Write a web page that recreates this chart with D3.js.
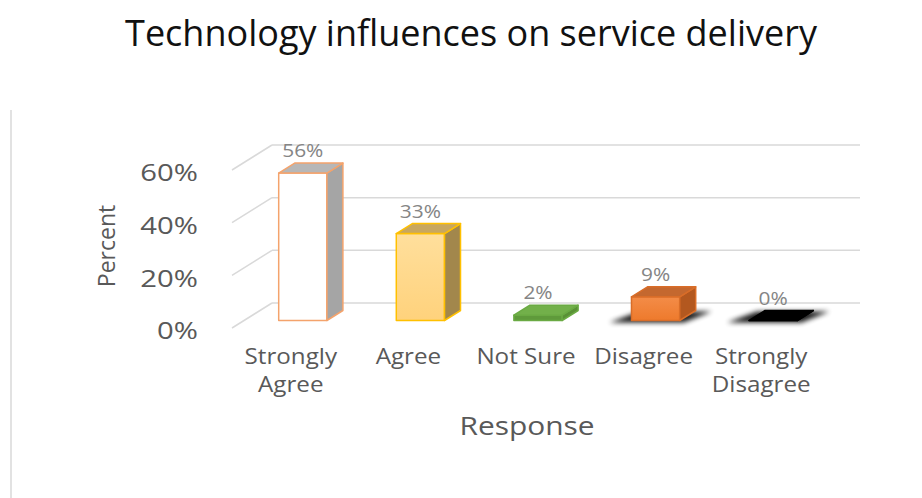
<!DOCTYPE html>
<html>
<head>
<meta charset="utf-8">
<script src="https://cdn.jsdelivr.net/npm/d3@7"></script>
<style>
  html, body { margin: 0; padding: 0; background: #ffffff; }
  svg { display: block; }
  text { font-family: "Open Sans", "Noto Sans", sans-serif; }
</style>
</head>
<body>
<svg id="chart" width="922" height="498"></svg>
<script>
// Survey responses
const categories = ["Strongly Agree", "Agree", "Not Sure", "Disagree", "Strongly Disagree"];
const categoryLines = [["Strongly", "Agree"], ["Agree"], ["Not Sure"], ["Disagree"], ["Strongly", "Disagree"]];
const percentValues = [0.56, 0.33, 0.02, 0.09, 0.00];
const valueLabels = ["56%", "33%", "2%", "9%", "0%"];
const tickValues = [0, 0.2, 0.4, 0.6];
const tickLabels = ["0%", "20%", "40%", "60%"];

// Face colours per bar: front, top, side, outline
const barStyles = [
  { front: "#ffffff", top: "#b7b7b7", side: "#a5a5a5", stroke: "#f4a36c", shadow: false },
  { front: "url(#gradAgree)", top: "#c8a75f", side: "#a2874c", stroke: "#ffc000", shadow: false },
  { front: "#5f9a3b", top: "#72b04a", side: "#5a9136", stroke: "#6aaa43", shadow: false },
  { front: "url(#gradDisagree)", top: "#c4682f", side: "#b3581f", stroke: "#d96d28", shadow: true },
  { front: "#000000", top: "#000000", side: "#000000", stroke: "#000000", shadow: true }
];

const svg = d3.select("#chart");
const defs = svg.append("defs");

const g1 = defs.append("linearGradient").attr("id", "gradAgree")
  .attr("x1", 0).attr("y1", 0).attr("x2", 0).attr("y2", 1);
g1.append("stop").attr("offset", "0%").attr("stop-color", "#ffdf9c");
g1.append("stop").attr("offset", "100%").attr("stop-color", "#ffd27c");

const g2 = defs.append("linearGradient").attr("id", "gradDisagree")
  .attr("x1", 0).attr("y1", 0).attr("x2", 0).attr("y2", 1);
g2.append("stop").attr("offset", "0%").attr("stop-color", "#f38c48");
g2.append("stop").attr("offset", "100%").attr("stop-color", "#ee7a2c");

defs.append("filter").attr("id", "shadowBlur")
  .attr("x", "-50%").attr("y", "-200%").attr("width", "200%").attr("height", "500%")
  .append("feGaussianBlur").attr("stdDeviation", 2.5);

// Frame line on the left
svg.append("line")
  .attr("x1", 11).attr("x2", 11).attr("y1", 110).attr("y2", 498)
  .attr("stroke", "#e2e2e2").attr("stroke-width", 2);

// Title
svg.append("text")
  .attr("x", 471).attr("y", 46)
  .attr("text-anchor", "middle")
  .attr("font-size", 36)
  .attr("fill", "#111111")
  .text("Technology influences on service delivery");

// Text helper: horizontally widened text anchored at (px, py)
function wideText(parent, px, py, sx) {
  return parent.append("text")
    .attr("transform", `translate(${px},${py}) scale(${sx},1)`);
}

// 3D projection: front plane from x scale / y scale, depth vector to the back wall
const depth = { dx: 40, dy: -25 };
const x = d3.scaleBand().domain(categories).range([232, 820]).paddingInner(0.59).paddingOuter(0.295);
const y = d3.scaleLinear().domain([0, 0.6]).range([328, 170]);

// Side wall diagonals and back wall gridlines
const grid = svg.append("g").attr("stroke", "#d9d9d9").attr("stroke-width", 1.5).attr("fill", "none");
grid.selectAll("line.diag").data(tickValues).join("line")
  .attr("class", "diag")
  .attr("x1", 232).attr("y1", d => y(d))
  .attr("x2", 232 + depth.dx).attr("y2", d => y(d) + depth.dy);
grid.selectAll("line.back").data(tickValues).join("line")
  .attr("class", "back")
  .attr("x1", 232 + depth.dx).attr("y1", d => y(d) + depth.dy)
  .attr("x2", 820 + depth.dx).attr("y2", d => y(d) + depth.dy);

// Y axis labels
const yAxis = d3.axisLeft(y).tickValues(tickValues).tickSize(0).tickPadding(0)
  .tickFormat((d, i) => tickLabels[i]);
const yAxisG = svg.append("g").attr("transform", "translate(198,3)").call(yAxis);
yAxisG.select(".domain").remove();
yAxisG.selectAll("text")
  .attr("font-family", "'Open Sans', sans-serif")
  .attr("font-size", 24)
  .attr("fill", "#595959")
  .attr("transform", "scale(1.22,1)");

// Y axis title
svg.append("text")
  .attr("transform", "translate(115,246) rotate(-90)")
  .attr("text-anchor", "middle")
  .attr("font-size", 23)
  .attr("fill", "#595959")
  .text("Percent");

// Bars
const zNear = 0.3, zFar = 0.7;
const bars = svg.append("g");
categories.forEach((c, i) => {
  const v = percentValues[i];
  const st = barStyles[i];
  const x0 = x(c) + depth.dx * zNear;
  const x1 = x0 + x.bandwidth();
  const yb = y(0) + depth.dy * zNear;
  const yt = y(v) + depth.dy * zNear;
  const ox = depth.dx * (zFar - zNear), oy = depth.dy * (zFar - zNear);
  const gb = bars.append("g");

  if (st.shadow) {
    gb.append("path")
      .attr("d", `M${x0 - 22},${yb + 2} L${x1 + 4},${yb + 2} L${x1 + ox + 16},${yb + oy + 1} L${x0 + ox - 8},${yb + oy + 1} Z`)
      .attr("fill", "#000000").attr("opacity", 0.9)
      .attr("filter", "url(#shadowBlur)");
  }
  // front face
  gb.append("path")
    .attr("d", `M${x0},${yb} L${x1},${yb} L${x1},${yt} L${x0},${yt} Z`)
    .attr("fill", st.front).attr("stroke", st.stroke).attr("stroke-width", 1.5)
    .attr("stroke-linejoin", "round");
  // side face
  gb.append("path")
    .attr("d", `M${x1},${yb} L${x1 + ox},${yb + oy} L${x1 + ox},${yt + oy} L${x1},${yt} Z`)
    .attr("fill", st.side).attr("stroke", st.stroke).attr("stroke-width", 1.5)
    .attr("stroke-linejoin", "round");
  // top face
  gb.append("path")
    .attr("d", `M${x0},${yt} L${x1},${yt} L${x1 + ox},${yt + oy} L${x0 + ox},${yt + oy} Z`)
    .attr("fill", st.top).attr("stroke", st.stroke).attr("stroke-width", 1.5)
    .attr("stroke-linejoin", "round");

  // value label, centred over the front face
  wideText(bars, x0 + x.bandwidth() / 2, yt + oy - 6, 1.1)
    .attr("text-anchor", "middle")
    .attr("font-size", 19)
    .attr("fill", "#858585")
    .text(valueLabels[i]);
});

// Category labels
const catG = svg.append("g");
categories.forEach((c, i) => {
  const t = wideText(catG, x(c) + x.bandwidth() / 2, 364, 1.1)
    .attr("text-anchor", "middle")
    .attr("font-size", 22)
    .attr("fill", "#595959");
  categoryLines[i].forEach((line, k) => {
    t.append("tspan")
      .attr("x", 0)
      .attr("y", k * 28)
      .text(line);
  });
});

// X axis title
wideText(svg, 527, 435, 1.15)
  .attr("text-anchor", "middle")
  .attr("font-size", 26)
  .attr("fill", "#595959")
  .text("Response");
</script>
</body>
</html>
